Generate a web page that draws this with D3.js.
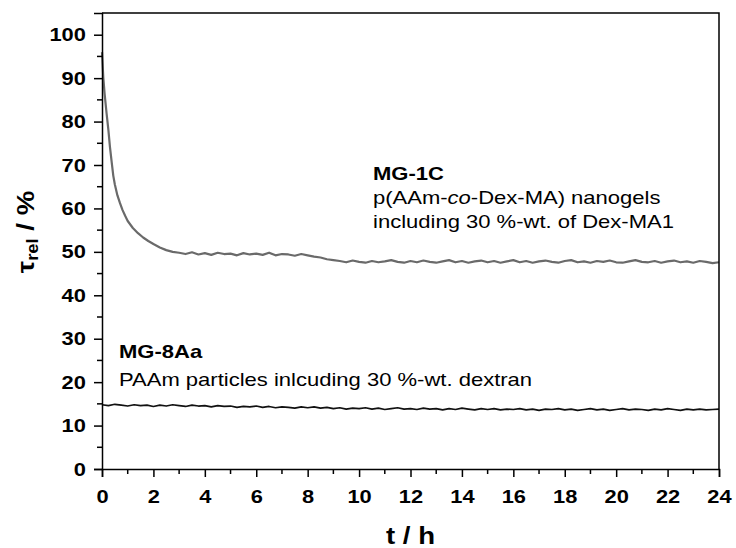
<!DOCTYPE html>
<html>
<head>
<meta charset="utf-8">
<script src="https://cdn.jsdelivr.net/npm/d3@7"></script>
<style>
    body { margin: 0; background: #fff; }
    text { font-family: Arial, "Liberation Sans", sans-serif; }
</style>
</head>
<body>
<script>

// time grid in hours (every 15 min)
var timeGrid = [0, 0.25, 0.5, 0.75, 1, 1.25, 1.5, 1.75, 2, 2.25, 2.5, 2.75, 3, 3.25, 3.5, 3.75,
    4, 4.25, 4.5, 4.75, 5, 5.25, 5.5, 5.75, 6, 6.25, 6.5, 6.75, 7, 7.25, 7.5, 7.75,
    8, 8.25, 8.5, 8.75, 9, 9.25, 9.5, 9.75, 10, 10.25, 10.5, 10.75, 11, 11.25, 11.5, 11.75,
    12, 12.25, 12.5, 12.75, 13, 13.25, 13.5, 13.75, 14, 14.25, 14.5, 14.75, 15, 15.25, 15.5, 15.75,
    16, 16.25, 16.5, 16.75, 17, 17.25, 17.5, 17.75, 18, 18.25, 18.5, 18.75, 19, 19.25, 19.5, 19.75,
    20, 20.25, 20.5, 20.75, 21, 21.25, 21.5, 21.75, 22, 22.25, 22.5, 22.75, 23, 23.25, 23.5, 23.75, 24];

// MG-8Aa (black), one value per grid point
var tauMG8Aa = [14.8,
    14.6, 14.9, 14.7, 14.5,  14.8, 14.6, 14.7, 14.4,  14.7, 14.5, 14.8, 14.6,  14.4, 14.7, 14.5, 14.6,
    14.3, 14.6, 14.4, 14.5,  14.2, 14.4, 14.3, 14.5,  14.2, 14.4, 14.1, 14.3,  14.2, 14.0, 14.3, 14.1,
    14.3, 14.0, 14.2, 13.9,  14.1, 13.8, 14.0, 13.9,  14.1, 13.8, 14.0, 13.7,  13.9, 14.1, 13.8, 13.9,
    13.7, 14.0, 13.8, 13.9,  13.6, 13.9, 13.7, 14.0,  13.8, 13.6, 13.9, 13.7,  13.9, 13.6, 13.8, 13.7,
    13.9, 13.6, 13.8, 13.5,  13.8, 13.7, 13.9, 13.6,  13.8, 13.5, 13.7, 13.9,  13.6, 13.8, 13.5, 13.7,
    13.9, 13.6, 13.8, 13.7,  13.5, 13.8, 13.6, 13.9,  13.7, 13.5, 13.8, 13.6,  13.8, 13.6, 13.7, 13.8];

// MG-1C (gray): fast decay first, then the regular grid after 3 h
var timeMG1CStart = [0, 0.05, 0.1, 0.18, 0.25, 0.31, 0.38, 0.44, 0.5, 0.6, 0.7, 0.8, 0.9,
    1.0, 1.2, 1.4, 1.6, 1.8, 2.0, 2.25, 2.5, 2.75, 3.0];

var tauMG1C = [96, 90.2, 86.5, 81.8, 78, 74.1, 70.5, 67.5, 65.5, 63, 61.2, 59.6, 58.3,
    57.1, 55.5, 54.3, 53.3, 52.5, 51.8, 51.0, 50.4, 50.0, 49.8,
    49.5, 49.9, 49.4, 49.7,  49.3, 49.8, 49.5, 49.6,  49.2, 49.7, 49.4, 49.6,  49.3, 49.8, 49.2, 49.5,
    49.4, 49.1, 49.5, 49.2,  48.9, 48.7, 48.3, 48.1,
    47.9, 47.6, 48.0, 47.7,  47.5, 47.9, 47.6, 47.8,  48.1, 47.7, 47.5, 47.9,  47.6, 48.0, 47.7, 47.5,
    47.8, 48.1, 47.6, 47.9,  47.5, 47.8, 48.0, 47.6,  47.9, 47.5, 47.8, 48.1,  47.6, 47.9, 47.5, 47.8,
    48.0, 47.7, 47.5, 47.9,  48.1, 47.6, 47.8, 47.5,  47.9, 47.7, 48.0, 47.6,  47.5, 47.8, 48.1, 47.7,
    47.6, 47.9, 47.5, 47.8,  48.0, 47.6, 47.8, 47.5,  47.9, 47.7, 47.4, 47.6];

var timeMG1C = timeMG1CStart.concat(timeGrid.filter(function(t){ return t > 3; }));

// tick values
var xTicks = [0, 2, 4, 6, 8, 10, 12, 14, 16, 18, 20, 22, 24];
var xMinorTicks = [1, 3, 5, 7, 9, 11, 13, 15, 17, 19, 21, 23];
var yTicks = [0, 10, 20, 30, 40, 50, 60, 70, 80, 90, 100];
var yMinorTicks = [5, 15, 25, 35, 45, 55, 65, 75, 85, 95];

var w = 736, h = 548;
var plot = { left: 102, right: 719, top: 13, bottom: 469 };

// the original lettering is a bit wider than Arial
var stretch = 1.15;

var svg = d3.select("body").append("svg")
    .attr("width", w)
    .attr("height", h);

// scales
var xScale = d3.scaleLinear().domain([0, 24]).range([plot.left, plot.right]);
var yScale = d3.scaleLinear().domain([0, 105]).range([plot.bottom, plot.top]);

// curves
var line = d3.line()
    .x(function(d){ return xScale(d[0]); })
    .y(function(d){ return yScale(d[1]); });

svg.append("path")
    .datum(d3.zip(timeMG1C, tauMG1C))
    .attr("d", line)
    .attr("fill", "none")
    .attr("stroke", "#6a6a6a")
    .attr("stroke-width", 2.2)
    .attr("stroke-linejoin", "round");

svg.append("path")
    .datum(d3.zip(timeGrid, tauMG8Aa))
    .attr("d", line)
    .attr("fill", "none")
    .attr("stroke", "#111")
    .attr("stroke-width", 1.7)
    .attr("stroke-linejoin", "round");

// frame (top and right)
svg.append("path")
    .attr("d", "M" + plot.left + "," + plot.top + "H" + plot.right + "V" + plot.bottom)
    .attr("fill", "none")
    .attr("stroke", "#000")
    .attr("stroke-width", 1.5);

// axes
var xAxis = d3.axisBottom(xScale).tickValues(xTicks).tickSize(8).tickPadding(13);
var yAxis = d3.axisLeft(yScale).tickValues(yTicks).tickSize(8).tickPadding(6);

var gx = svg.append("g")
    .attr("transform", "translate(0," + plot.bottom + ")")
    .call(xAxis);

var gy = svg.append("g")
    .attr("transform", "translate(" + plot.left + ",0)")
    .call(yAxis);

[gx, gy].forEach(function(g){
    g.select(".domain").attr("stroke-width", 1.5);
    g.selectAll(".tick line").attr("stroke-width", 1.5);
    g.selectAll(".tick text")
        .attr("font-size", 19)
        .attr("font-weight", "bold")
        .attr("fill", "#000")
        .attr("transform", "scale(" + stretch + ",1)")
        .style("font-family", "Arial, 'Liberation Sans', sans-serif");
});

// minor ticks
gx.selectAll(".minor")
    .data(xMinorTicks)
    .enter()
    .append("line")
    .attr("x1", function(d){ return xScale(d); })
    .attr("x2", function(d){ return xScale(d); })
    .attr("y1", 0)
    .attr("y2", 5)
    .attr("stroke", "#000")
    .attr("stroke-width", 1.5);

gy.selectAll(".minor")
    .data(yMinorTicks)
    .enter()
    .append("line")
    .attr("y1", function(d){ return yScale(d); })
    .attr("y2", function(d){ return yScale(d); })
    .attr("x1", 0)
    .attr("x2", -5)
    .attr("stroke", "#000")
    .attr("stroke-width", 1.5);

// axis titles
svg.append("text")
    .attr("transform", "translate(" + ((plot.left + plot.right) / 2) + ",544) scale(" + stretch + ",1)")
    .attr("text-anchor", "middle")
    .attr("font-size", 24)
    .attr("font-weight", "bold")
    .text("t / h");

var yTitle = svg.append("text")
    .attr("transform", "translate(34,232) rotate(-90) scale(" + stretch + ",1)")
    .attr("text-anchor", "middle")
    .attr("font-size", 24)
    .attr("font-weight", "bold");
yTitle.append("tspan").text("τ");
yTitle.append("tspan").attr("font-size", 16).attr("dy", 4).text("rel");
yTitle.append("tspan").attr("dy", -4).text(" / %");

// annotations
function note(x, y, lines){
    var t = svg.append("text")
        .attr("transform", "translate(" + x + "," + y + ") scale(1.19,1)")
        .attr("font-size", 18.5);
    lines.forEach(function(parts, i){
        var l = t.append("tspan").attr("x", 0).attr("y", i === 0 ? 0 : lines.gap[i]);
        parts.forEach(function(p){
            l.append("tspan")
                .attr("font-weight", p.bold ? "bold" : null)
                .attr("font-style", p.italic ? "italic" : null)
                .text(p.s);
        });
    });
}

var noteMG1C = [
    [{ s: "MG-1C", bold: true }],
    [{ s: "p(AAm-" }, { s: "co", italic: true }, { s: "-Dex-MA) nanogels" }],
    [{ s: "including 30 %-wt. of Dex-MA1" }]
];
noteMG1C.gap = [0, 24, 48];
note(373, 180, noteMG1C);

var noteMG8Aa = [
    [{ s: "MG-8Aa", bold: true }],
    [{ s: "PAAm particles inlcuding 30 %-wt. dextran" }]
];
noteMG8Aa.gap = [0, 28];
note(119, 358, noteMG8Aa);

</script>
</body>
</html>
